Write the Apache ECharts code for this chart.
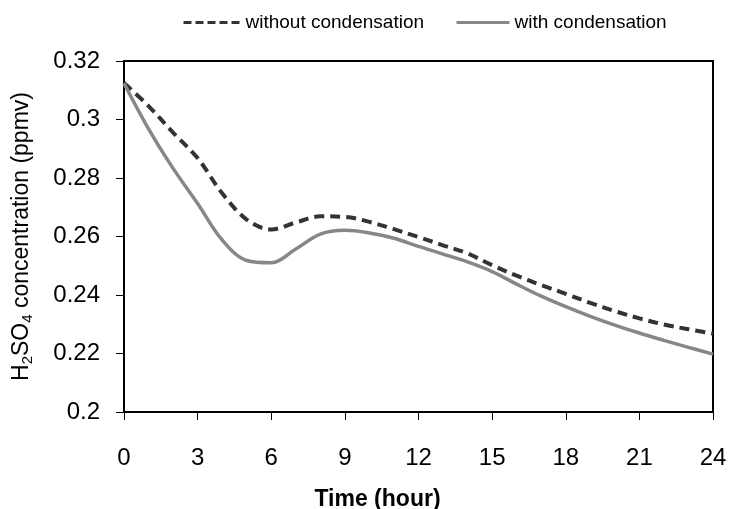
<!DOCTYPE html>
<html>
<head>
<meta charset="utf-8">
<script src="https://cdn.jsdelivr.net/npm/echarts@6/dist/echarts.min.js"></script>
<style>
  html, body { margin: 0; padding: 0; background: #fff; }
  #chart { width: 729px; height: 509px; }
</style>
</head>
<body>
<div id="chart"></div>
<script>
// Simulation time (hours)
const hours = [0, 1, 2, 3, 4, 5, 6, 7, 8, 9, 10, 11, 12, 13, 14, 15, 16, 17, 18, 19, 20, 21, 22, 23, 24];

// H2SO4 concentration (ppmv) without condensation
const withoutCondensation = [
  0.3125, 0.3046, 0.2955, 0.2868, 0.2748, 0.2658, 0.2624, 0.2648, 0.2669, 0.2667,
  0.2650, 0.2625, 0.2598, 0.2570, 0.2542, 0.2502, 0.2466, 0.2434, 0.2404, 0.2373,
  0.2345, 0.2320, 0.2299, 0.2283, 0.2268
];

// H2SO4 concentration (ppmv) with condensation
const withCondensation = [
  0.3124, 0.2968, 0.2833, 0.2713, 0.2588, 0.2518, 0.2510, 0.2557, 0.2608, 0.2621,
  0.2612, 0.2594, 0.2566, 0.2540, 0.2513, 0.2480, 0.2437, 0.2396, 0.2360, 0.2327,
  0.2297, 0.2270, 0.2245, 0.2221, 0.2198
];

const seriesNames = ['without condensation', 'with condensation'];

const FONT = 'Liberation Sans, Arial, sans-serif';

const pairs = (ys) => hours.map((h, i) => [h, ys[i]]);

const chart = echarts.init(document.getElementById('chart'), null, { renderer: 'canvas' });

chart.setOption({
  backgroundColor: '#ffffff',
  animation: false,
  legend: [
    {
      left: 177, top: 8,
      itemWidth: 57, itemHeight: 14,
      itemStyle: { opacity: 0 },
      textStyle: { fontFamily: FONT, fontSize: 19, color: '#000' },
      data: [{ name: seriesNames[0], lineStyle: { type: [8, 4], width: 3, color: '#333' } }]
    },
    {
      left: 450, top: 8,
      itemWidth: 53, itemHeight: 14,
      itemStyle: { opacity: 0 },
      textStyle: { fontFamily: FONT, fontSize: 19, color: '#000' },
      data: [{ name: seriesNames[1], lineStyle: { width: 3, color: '#878787' } }]
    }
  ],
  grid: {
    left: 124, right: 16, top: 61, bottom: 97,
    containLabel: false, outerBoundsMode: 'none',
    show: true, borderColor: '#000', borderWidth: 2, backgroundColor: 'transparent'
  },
  xAxis: {
    type: 'value', min: 0, max: 24, interval: 3,
    name: 'Time (hour)', nameLocation: 'middle', nameGap: 76,
    nameTextStyle: { fontFamily: FONT, fontSize: 23, fontWeight: 'bold', color: '#000', padding: [0, 82, 0, 0] },
    axisLine: { show: true, lineStyle: { color: '#000', width: 2 } },
    axisTick: { show: true, inside: false, length: 8, lineStyle: { color: '#000', width: 1 } },
    axisLabel: { margin: 34, fontFamily: FONT, fontSize: 24, color: '#000' },
    splitLine: { show: false }
  },
  yAxis: {
    type: 'value', min: 0.2, max: 0.32, interval: 0.02,
    name: '{a|H}{s|2}{a|SO}{s|4}{a| concentration (ppmv)}',
    nameLocation: 'middle', nameGap: 89, nameRotate: 90,
    nameTextStyle: {
      rich: {
        a: { fontFamily: FONT, fontSize: 23, color: '#000', lineHeight: 27 },
        s: { fontFamily: FONT, fontSize: 15, color: '#000', lineHeight: 15, padding: [13, 0, 0, 0] }
      }
    },
    axisLine: { show: true, lineStyle: { color: '#000', width: 2 } },
    axisTick: { show: true, inside: false, length: 8, lineStyle: { color: '#000', width: 1 } },
    axisLabel: { margin: 24, fontFamily: FONT, fontSize: 24, color: '#000',
      formatter: (v) => String(parseFloat(v.toFixed(2))) },
    splitLine: { show: false }
  },
  series: [
    {
      name: seriesNames[0], type: 'line', data: pairs(withoutCondensation),
      smooth: 0.35, showSymbol: false, symbol: 'none',
      lineStyle: { color: '#333333', width: 4, type: [10, 6] },
      itemStyle: { color: '#333333' }
    },
    {
      name: seriesNames[1], type: 'line', data: pairs(withCondensation),
      smooth: 0.35, showSymbol: false, symbol: 'none',
      lineStyle: { color: '#878787', width: 3.5 },
      itemStyle: { color: '#878787' }
    }
  ]
});
</script>
</body>
</html>
